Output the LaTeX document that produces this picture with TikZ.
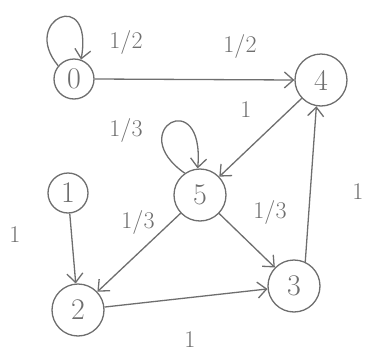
\documentclass[tikz,border=0pt]{standalone}
\usetikzlibrary{arrows.meta}
\definecolor{pencil}{RGB}{110,110,110}
\begin{document}
\begin{tikzpicture}[x=1pt,y=-1pt,
  state/.style={circle,draw=pencil,line width=1.3pt,text=pencil,inner sep=0pt,font=\fontsize{30}{30}\selectfont},
  small/.style={state,minimum size=40pt},
  big/.style={state,minimum size=52pt},
  link/.style={draw=pencil,line width=1.3pt,-{Straight Barb[length=9pt,width=16pt]}},
  wlab/.style={text=pencil,font=\fontsize{24}{24}\selectfont}]
\useasboundingbox (0,0) rectangle (368,354);
\node[small] (n0) at (74,79) {0};
\node[big] (n4) at (321,80) {4};
\node[big] (n5) at (200,195) {5};
\node[small] (n1) at (68,193) {1};
\node[big] (n2) at (78,310) {2};
\node[big] (n3) at (294,286) {3};
% edges
\draw[link] (n0.140) to[out=130,in=80,out min distance=60pt,in min distance=75pt] (n0.70);
\draw[link] (n0.east) -- (n4.west);
\draw[link] (n5.125) to[out=145,in=85,out min distance=75pt,in min distance=85pt] (n5.95);
\draw[link] (n4) -- (n5);
\draw[link] (n1) -- (n2);
\draw[link] (n5) -- (n2);
\draw[link] (n5) -- (n3);
\draw[link] (n2) -- (n3);
\draw[link] (n3.65) -- (n4.260);
% labels
\node[wlab] (l0) at (126,42) {1/2};
\node[wlab] (l04) at (240,46) {1/2};
\node[wlab] (l55) at (126,130) {1/3};
\node[wlab] (l45) at (246,110) {1};
\node[wlab] (l12) at (15,235) {1};
\node[wlab] (l52) at (138,222) {1/3};
\node[wlab] (l53) at (270,212) {1/3};
\node[wlab] (l23) at (190,340) {1};
\node[wlab] (l34) at (358,192) {1};
\end{tikzpicture}
\end{document}
